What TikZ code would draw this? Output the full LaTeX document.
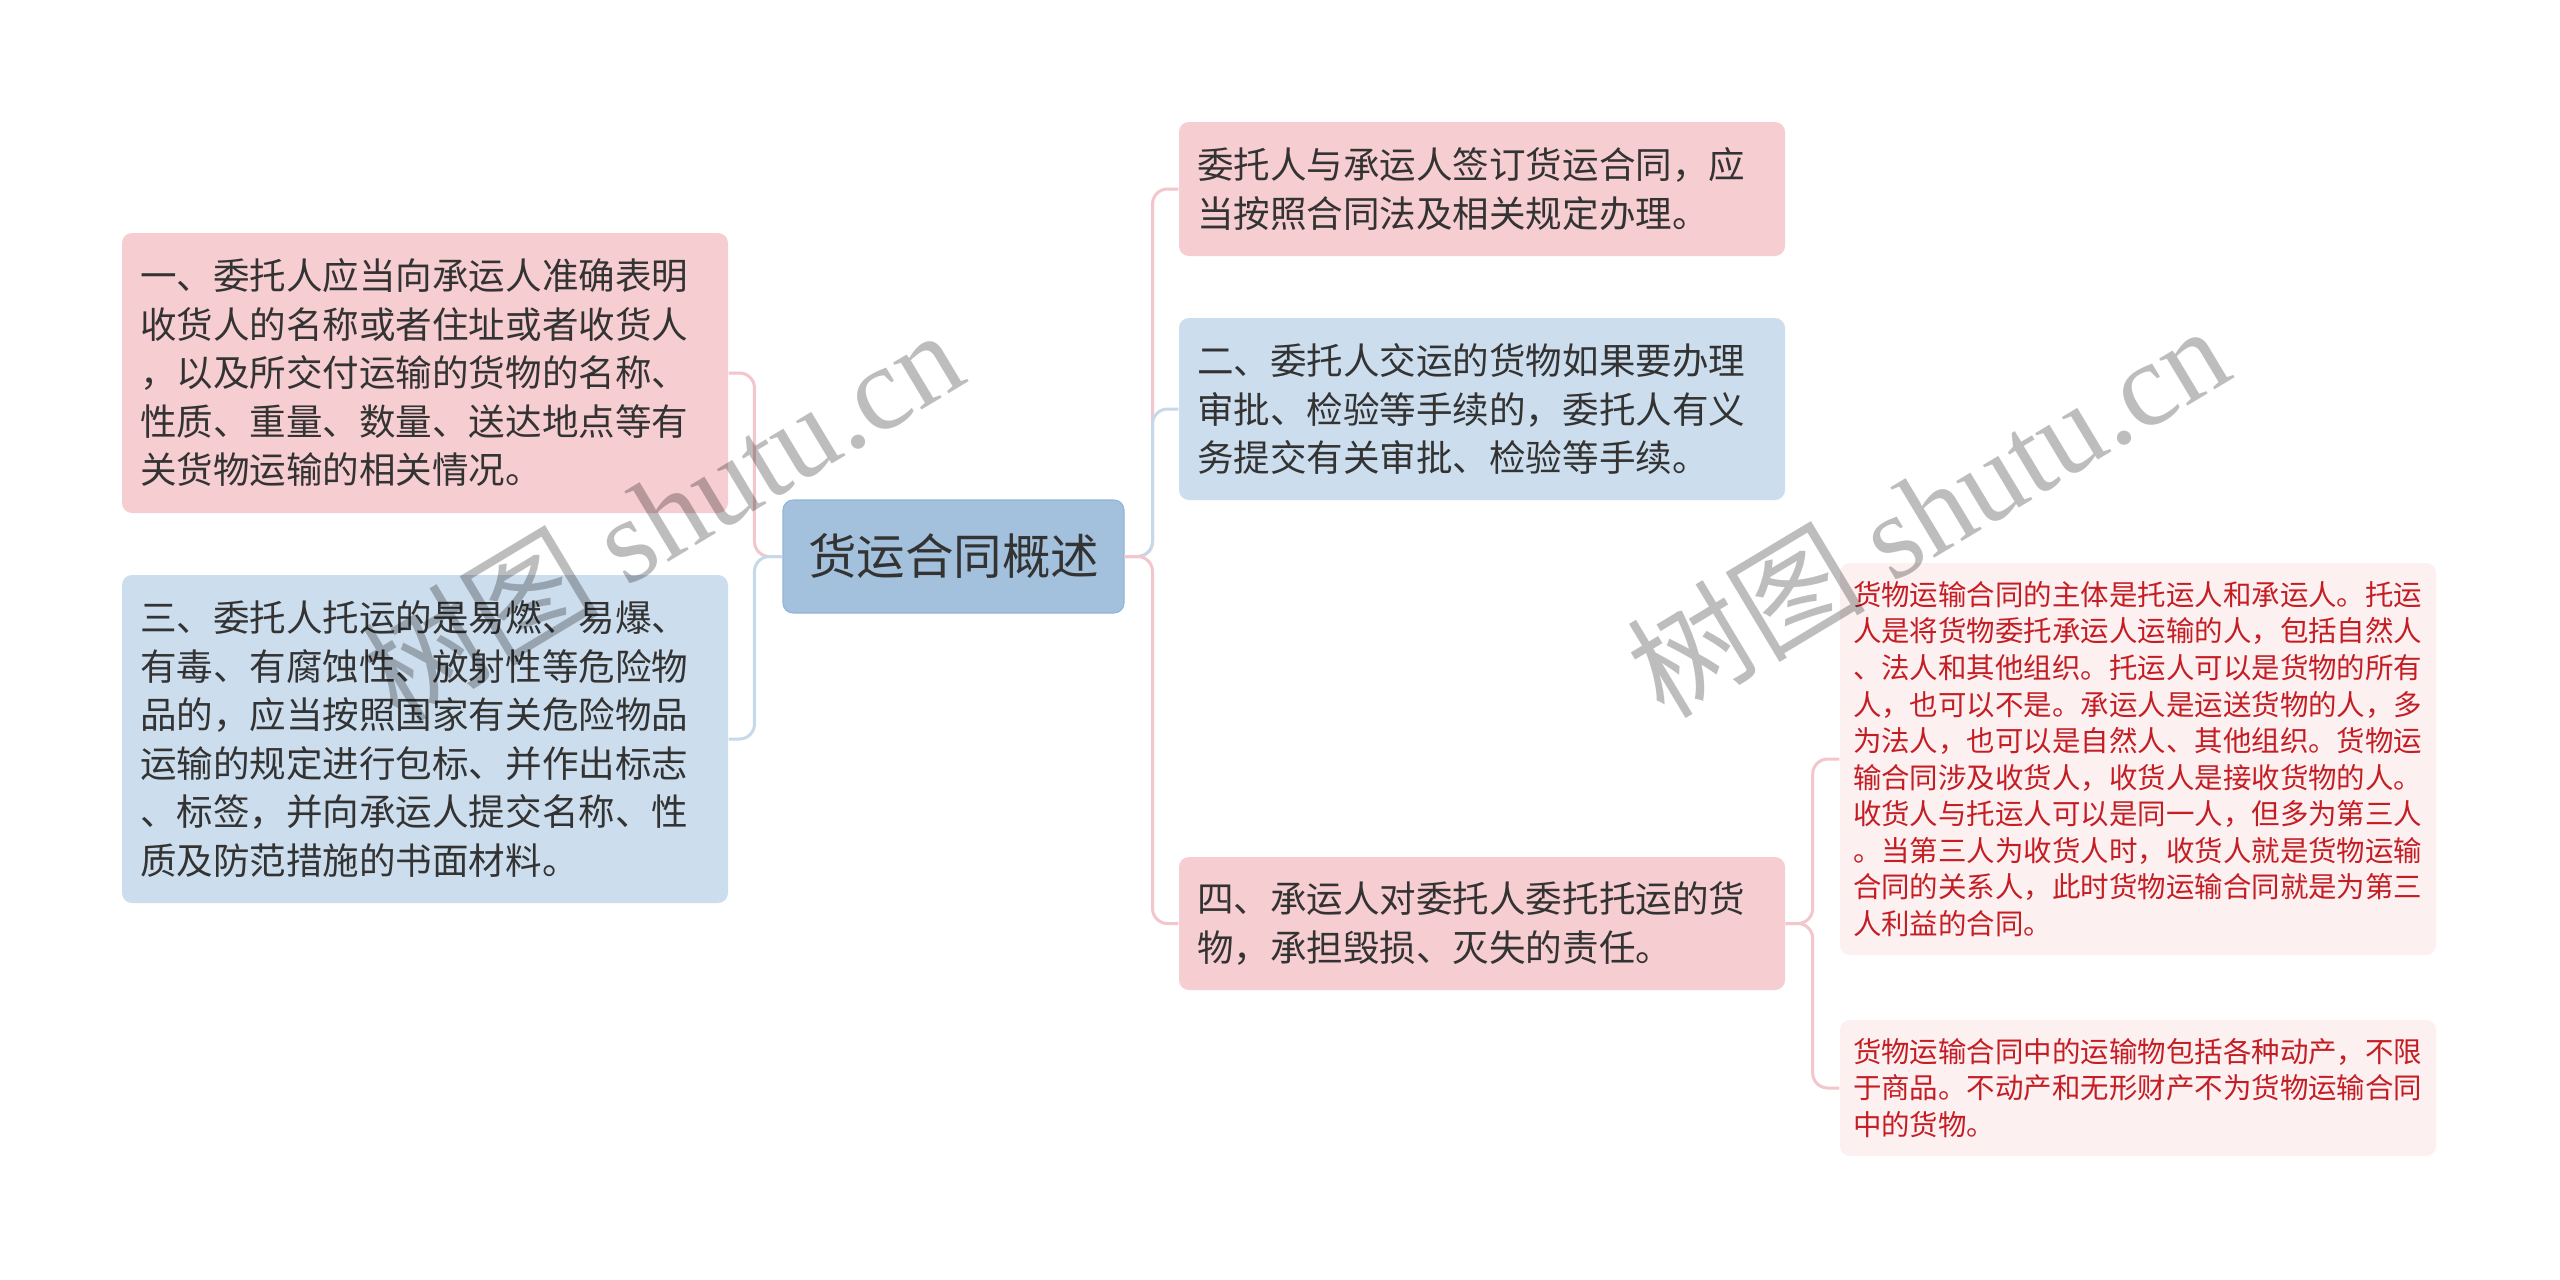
\documentclass[tikz,border=0pt]{standalone}
\usepackage{fontspec}
\setmainfont{Noto Sans CJK SC}
\newfontfamily\wmlatin{Liberation Serif}
\usetikzlibrary{positioning}
\definecolor{pinkbox}{HTML}{F6CDD0}
\definecolor{bluebox}{HTML}{CCDDED}
\definecolor{hubbox}{HTML}{A3C1DD}
\definecolor{hubedge}{HTML}{93B4D4}
\definecolor{leafbox}{HTML}{FCF0F1}
\definecolor{pinkline}{HTML}{F2C6CA}
\definecolor{blueline}{HTML}{C6D9EB}
\definecolor{darktext}{HTML}{333333}
\definecolor{redtext}{HTML}{C41E24}

\begin{document}
\begin{tikzpicture}[x=0.1mm,y=-0.1mm,
  topic box/.style={rounded corners=1mm,align=left,text width=57mm,
    inner xsep=1.8mm,inner ysep=0pt,text=darktext,
    font=\fontsize{10.4pt}{13.8pt}\selectfont},
  pink box/.style={topic box,fill=pinkbox},
  blue box/.style={topic box,fill=bluebox},
  hub node/.style={rounded corners=1mm,fill=hubbox,draw=hubedge,line width=0.3pt,
    text=darktext,minimum width=34.1mm,minimum height=11.3mm,
    font=\fontsize{13.8pt}{16pt}\selectfont},
  leaf box/.style={rounded corners=1mm,fill=leafbox,align=left,text width=57mm,
    inner xsep=1.3mm,inner ysep=0pt,text=redtext,
    font=\fontsize{8.1pt}{10.4pt}\selectfont},
  pink line/.style={draw=pinkline,line width=0.3mm,rounded corners=1.5mm},
  blue line/.style={draw=blueline,line width=0.3mm,rounded corners=1.5mm},
  watermark/.style={rotate=31,text=black,text opacity=0.26,
    font=\fontsize{34pt}{34pt}\selectfont}]

  \fill[white] (0,0) rectangle (2560,1280);
  \useasboundingbox (0,0) rectangle (2560,1280);

  % centre and the two sides
  \node[hub node] (H) at (953.5,556.5) {货运合同概述};

  \node[pink box, minimum height=28mm] (L1) at (425,373)
    {一、委托人应当向承运人准确表明\\收货人的名称或者住址或者收货人\\，以及所交付运输的货物的名称、\\性质、重量、数量、送达地点等有\\关货物运输的相关情况。};
  \node[blue box, minimum height=32.8mm] (L3) at (425,739)
    {三、委托人托运的是易燃、易爆、\\有毒、有腐蚀性、放射性等危险物\\品的，应当按照国家有关危险物品\\运输的规定进行包标、并作出标志\\、标签，并向承运人提交名称、性\\质及防范措施的书面材料。};

  \node[pink box, minimum height=13.4mm] (RA) at (1482,189)
    {委托人与承运人签订货运合同，应\\当按照合同法及相关规定办理。};
  \node[blue box, minimum height=18.2mm] (R2) at (1482,409)
    {二、委托人交运的货物如果要办理\\审批、检验等手续的，委托人有义\\务提交有关审批、检验等手续。};
  \node[pink box, minimum height=13.3mm] (R4) at (1482,923.5)
    {四、承运人对委托人委托托运的货\\物，承担毁损、灭失的责任。};

  \node[leaf box, minimum height=39.2mm] (S1) at (2138,759)
    {货物运输合同的主体是托运人和承运人。托运\\人是将货物委托承运人运输的人，包括自然人\\、法人和其他组织。托运人可以是货物的所有\\人，也可以不是。承运人是运送货物的人，多\\为法人，也可以是自然人、其他组织。货物运\\输合同涉及收货人，收货人是接收货物的人。\\收货人与托运人可以是同一人，但多为第三人\\。当第三人为收货人时，收货人就是货物运输\\合同的关系人，此时货物运输合同就是为第三\\人利益的合同。};
  \node[leaf box, minimum height=13.6mm] (S2) at (2138,1088)
    {货物运输合同中的运输物包括各种动产，不限\\于商品。不动产和无形财产不为货物运输合同\\中的货物。};

  % connectors, drawn in this order so the colours overlap as shown
  \draw[pink line] (H.west) -- ++(-28,0) |- (L1.east);
  \draw[blue line] (H.west) -- ++(-28,0) |- (L3.east);
  \draw[pink line] (H.east) -- ++(28,0) |- (RA.west);
  \draw[blue line] (H.east) -- ++(28,0) |- (R2.west);
  \draw[pink line] (H.east) -- ++(28,0) |- (R4.west);
  \draw[pink line] (R4.east) -- ++(27,0) |- (S1.west);
  \draw[pink line] (R4.east) -- ++(27,0) |- (S2.west);

  \node[watermark] (W1) at (661,514) {树图 {\wmlatin shutu.cn}};
  \node[watermark] (W2) at (1927,510) {树图 {\wmlatin shutu.cn}};
\end{tikzpicture}
\end{document}
